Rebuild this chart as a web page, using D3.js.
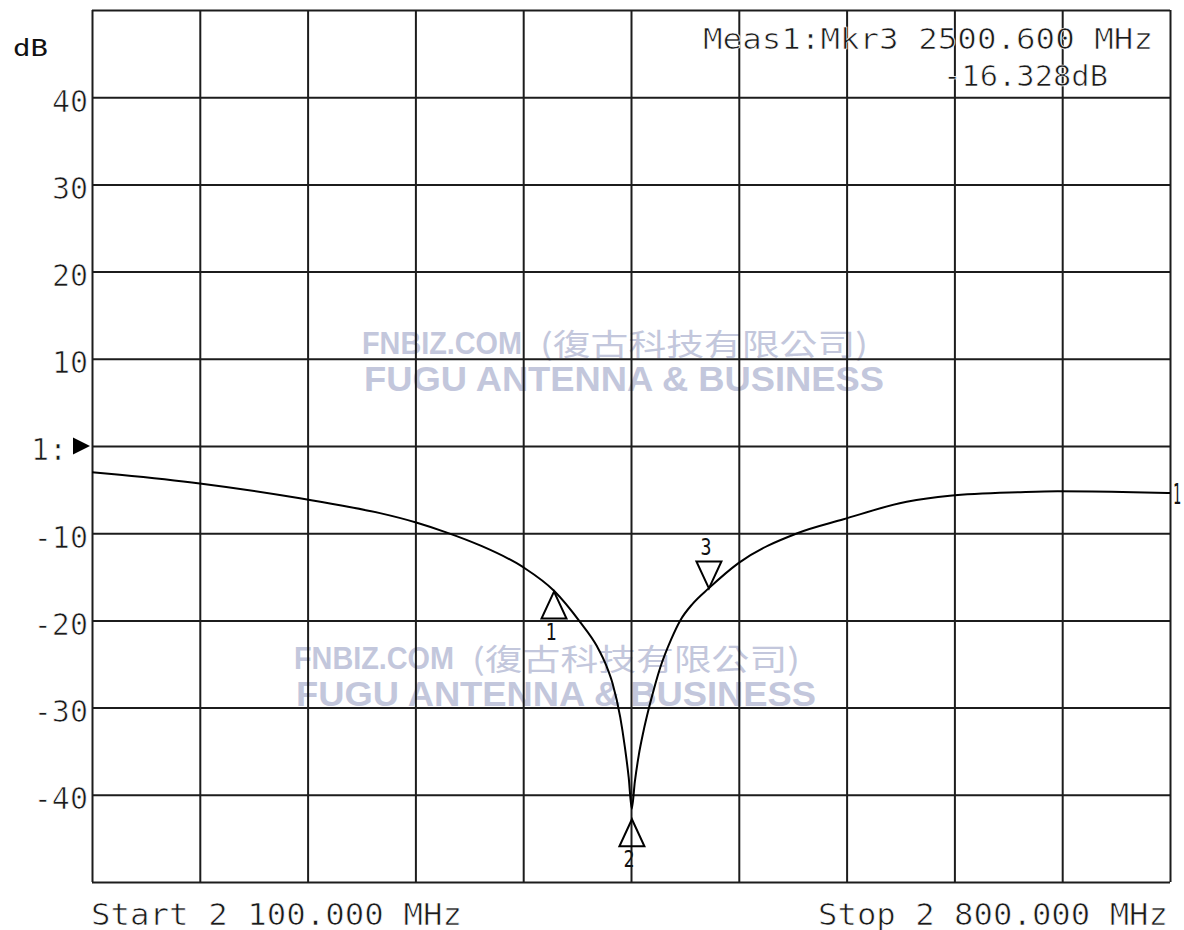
<!DOCTYPE html>
<html>
<head>
<meta charset="utf-8">
<script src="https://cdn.jsdelivr.net/npm/d3@7"></script>
<style>
  body { margin: 0; background: #fff; }
  svg { display: block; }
  .mono { font-family: "DejaVu Sans Mono", "Liberation Mono", monospace; fill: #111; }
  .thin { fill: #1a1a1a; stroke: #fff; stroke-width: 0.7px; }
</style>
</head>
<body>
<div id="main"></div>
<script>
// trace (MHz / dB)
var freqMHz = [2100, 2118, 2170, 2235, 2261, 2287, 2311, 2330, 2352, 2380, 2400, 2417, 2428, 2434,
    2438, 2443, 2446, 2448.5, 2450.5, 2452.5, 2455, 2458, 2462, 2465, 2469, 2476, 2482, 2490,
    2500.6, 2520, 2558, 2588, 2629, 2657, 2703, 2727, 2776, 2800];
var returnLossDb = [-3.0, -3.3, -4.3, -6.0, -6.8, -7.7, -8.8, -9.9, -11.4, -13.9, -16.6, -20.2, -23.0, -25.2,
    -27.2, -31.1, -34.5, -38.0, -41.6, -38.5, -35.5, -32.8, -29.8, -27.8, -25.4, -22.2, -20.0, -18.1,
    -16.3, -13.4, -10.0, -8.4, -6.4, -5.7, -5.3, -5.2, -5.3, -5.4];

var yTickValues = [40, 30, 20, 10, -10, -20, -30, -40];
var refLevel = 0;

var markerIds = ["1", "2", "3"];
var markerFreqMHz = [2400, 2450.6, 2500.6];
var markerDb = [-16.7, -42.8, -16.328];
var markerPointsUp = [true, true, false];
var activeMarker = 2; // index of Mkr3

var watermarkLines = ["FNBIZ.COM", "(復古科技有限公司)", "FUGU ANTENNA & BUSINESS"];

// canvas
var W = 1184, H = 930;
var margin = { top: 10, right: 14, bottom: 48, left: 92 };
var plotW = W - margin.left - margin.right,
    plotH = H - margin.top - margin.bottom;

var fmt = d3.formatLocale({ decimal: ".", thousands: " ", grouping: [3], currency: ["", ""], minus: "-" });

var svg = d3.select("#main").append("svg")
    .attr("width", W)
    .attr("height", H);

var xScale = d3.scaleLinear().domain([2100, 2800]).range([margin.left, margin.left + plotW]);
var yScale = d3.scaleLinear().domain([-50, 50]).range([margin.top + plotH, margin.top]);

// watermark (drawn first, grid passes over it)
function watermark(dx, dy) {
    var g = svg.append("g").attr("fill", "#c3c7dc");
    g.append("text")
        .attr("x", 362 + dx).attr("y", 354 + dy)
        .attr("font-family", "Liberation Sans, Arial, sans-serif")
        .attr("font-weight", "bold")
        .attr("font-size", 32)
        .attr("textLength", 160).attr("lengthAdjust", "spacingAndGlyphs")
        .text(watermarkLines[0]);
    g.append("text")
        .attr("x", 540 + dx).attr("y", 355 + dy)
        .attr("font-family", "Noto Sans CJK TC, sans-serif")
        .attr("font-size", 30)
        .attr("textLength", 328).attr("lengthAdjust", "spacingAndGlyphs")
        .text(watermarkLines[1]);
    g.append("text")
        .attr("x", 364 + dx).attr("y", 391 + dy)
        .attr("font-family", "Liberation Sans, Arial, sans-serif")
        .attr("font-weight", "bold")
        .attr("font-size", 35)
        .attr("textLength", 520).attr("lengthAdjust", "spacingAndGlyphs")
        .text(watermarkLines[2]);
}
watermark(0, 0);
watermark(-68, 315);

// grid
var xGrid = d3.axisBottom(xScale)
    .tickValues(d3.range(2100, 2801, 70))
    .tickSize(-plotH)
    .tickFormat("");
var yGrid = d3.axisLeft(yScale)
    .tickValues(d3.range(-50, 51, 10))
    .tickSize(-plotW)
    .tickFormat("");

svg.append("g")
    .attr("transform", "translate(0," + (margin.top + plotH) + ")")
    .call(xGrid)
    .call(g => g.select(".domain").remove())
    .selectAll("line").attr("stroke", "#1c1c1c").attr("stroke-width", 2);
svg.append("g")
    .attr("transform", "translate(" + margin.left + ",0)")
    .call(yGrid)
    .call(g => g.select(".domain").remove())
    .selectAll("line").attr("stroke", "#1c1c1c").attr("stroke-width", 2);

// y labels
var yAxis = d3.axisLeft(yScale)
    .tickValues(yTickValues)
    .tickSize(0)
    .tickPadding(4)
    .tickFormat(function (d) { return String(d); });
svg.append("g")
    .attr("transform", "translate(" + margin.left + ",0)")
    .call(yAxis)
    .call(g => g.select(".domain").remove())
    .selectAll("text")
    .attr("class", "mono thin")
    .attr("font-size", 30)
    .attr("dy", "0.47em");

svg.append("text").attr("class", "mono")
    .attr("x", 13).attr("y", 56)
    .attr("font-size", 23)
    .attr("textLength", 35).attr("lengthAdjust", "spacingAndGlyphs")
    .text("dB");

// reference level pointer "1:"
var ry = yScale(refLevel);
svg.append("text").attr("class", "mono thin")
    .attr("x", 31).attr("y", ry + 14)
    .attr("font-size", 30)
    .text("1:");
svg.append("path")
    .attr("d", "M" + (margin.left - 19) + "," + (ry - 8.5) + "L" + (margin.left - 19) + "," + (ry + 8.5) +
        "L" + (margin.left - 2) + "," + ry + "Z")
    .attr("fill", "#000");

// trace
var pts = freqMHz.map(function (f, i) { return [f, returnLossDb[i]]; });
var line = d3.line()
    .x(function (d) { return xScale(d[0]); })
    .y(function (d) { return yScale(d[1]); })
    .curve(d3.curveMonotoneX);
svg.append("path")
    .datum(pts)
    .attr("d", line)
    .attr("fill", "none")
    .attr("stroke", "#000")
    .attr("stroke-width", 2);

svg.append("text").attr("class", "mono")
    .attr("x", xScale(2800) + 3)
    .attr("y", yScale(returnLossDb[returnLossDb.length - 1]) + 11)
    .attr("font-size", 28)
    .attr("textLength", 8).attr("lengthAdjust", "spacingAndGlyphs")
    .text("1");

// markers
var mk = svg.append("g").selectAll("g")
    .data(markerIds.map(function (id, i) {
        return { id: id, f: markerFreqMHz[i], db: markerDb[i], up: markerPointsUp[i] };
    }))
    .enter().append("g")
    .attr("transform", function (d) { return "translate(" + xScale(d.f) + "," + yScale(d.db) + ")"; });

mk.append("path")
    .attr("d", function (d) {
        var s = d.up ? 1 : -1;
        return "M0,0L-12.5," + (27 * s) + "L12.5," + (27 * s) + "Z";
    })
    .attr("fill", "none")
    .attr("stroke", "#000")
    .attr("stroke-width", 2);

mk.append("text").attr("class", "mono")
    .attr("x", -3)
    .attr("y", function (d) { return d.up ? 48 : -33; })
    .attr("text-anchor", "middle")
    .attr("font-size", 23)
    .attr("textLength", 11).attr("lengthAdjust", "spacingAndGlyphs")
    .text(function (d) { return d.id; });

// marker readout
svg.append("text").attr("class", "mono thin")
    .attr("x", 1153).attr("y", 49)
    .attr("text-anchor", "end")
    .attr("font-size", 29)
    .attr("textLength", 450).attr("lengthAdjust", "spacingAndGlyphs")
    .text("Meas1:Mkr" + markerIds[activeMarker] + " " + fmt.format(".3f")(markerFreqMHz[activeMarker]) + " MHz");
svg.append("text").attr("class", "mono thin")
    .attr("x", 1108).attr("y", 86)
    .attr("text-anchor", "end")
    .attr("font-size", 29)
    .attr("textLength", 165).attr("lengthAdjust", "spacingAndGlyphs")
    .text(fmt.format(".3f")(markerDb[activeMarker]) + "dB");

// start / stop
var fmtMHz = fmt.format(",.3f");
svg.append("text").attr("class", "mono thin")
    .attr("x", 91).attr("y", 925)
    .attr("font-size", 31)
    .attr("textLength", 371).attr("lengthAdjust", "spacingAndGlyphs")
    .text("Start " + fmtMHz(xScale.domain()[0]) + " MHz");
svg.append("text").attr("class", "mono thin")
    .attr("x", 1168).attr("y", 925)
    .attr("text-anchor", "end")
    .attr("font-size", 31)
    .attr("textLength", 350).attr("lengthAdjust", "spacingAndGlyphs")
    .text("Stop " + fmtMHz(xScale.domain()[1]) + " MHz");
</script>
</body>
</html>
